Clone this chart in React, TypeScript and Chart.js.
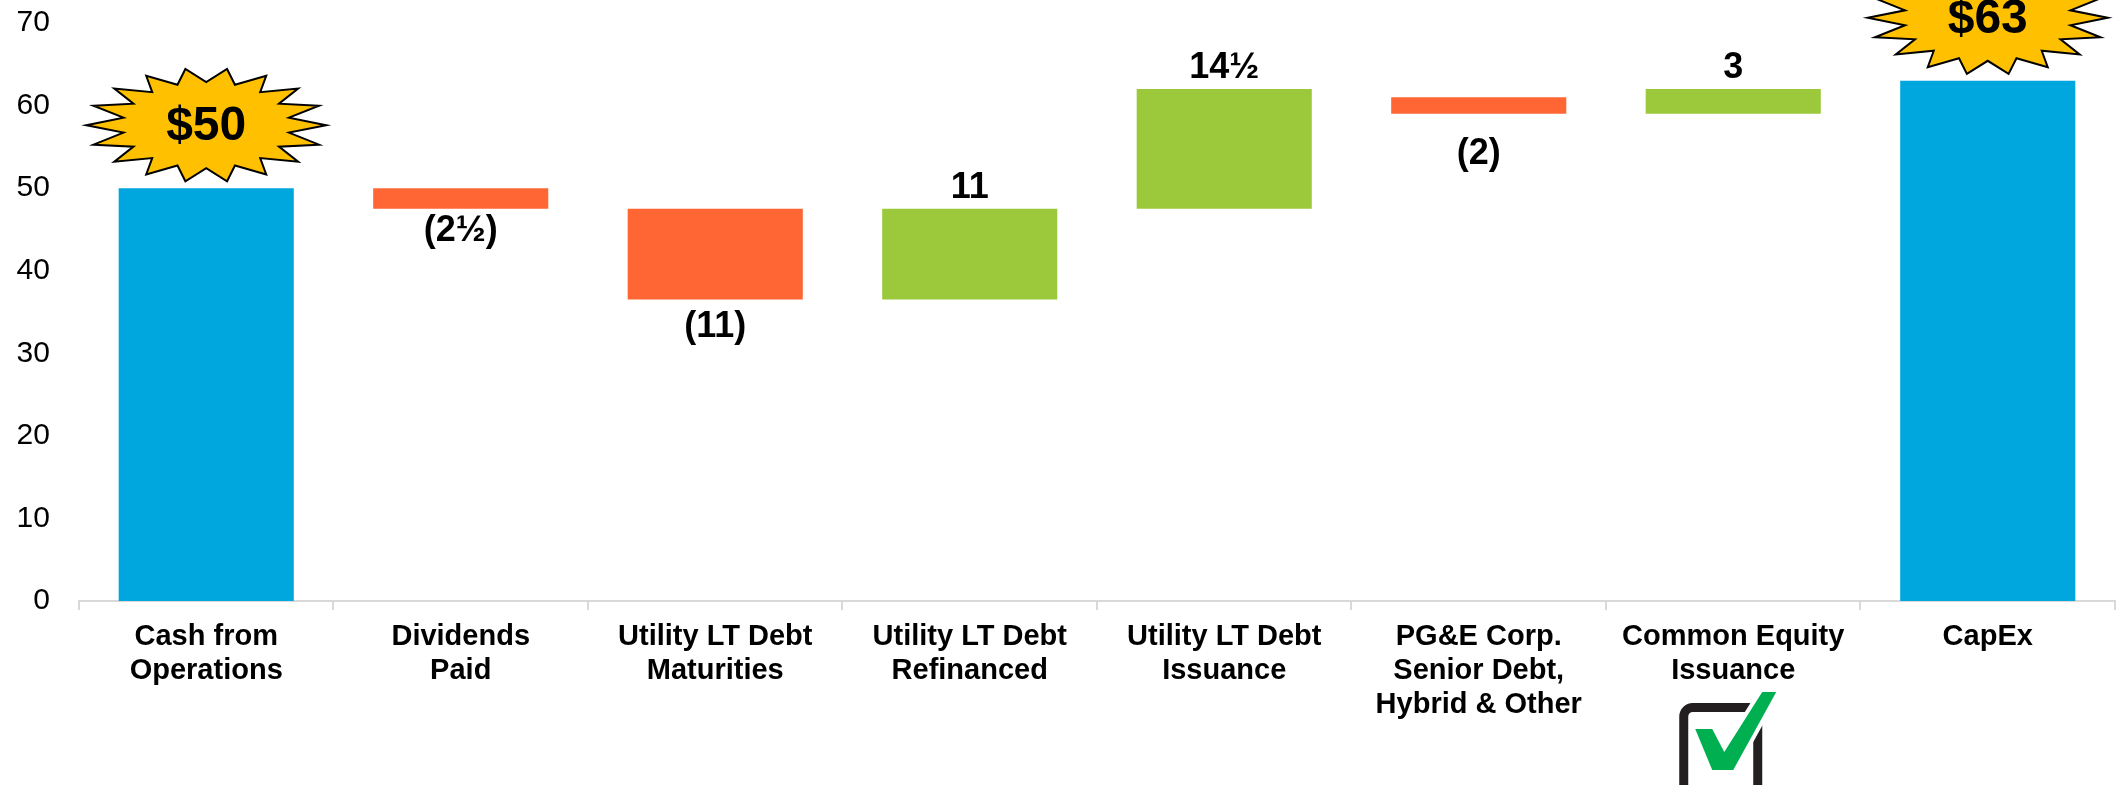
import React, { useEffect, useRef } from "react";
import { Chart, registerables } from "chart.js";

Chart.register(...registerables);

const categories: string[][] = [
  ["Cash from", "Operations"],
  ["Dividends", "Paid"],
  ["Utility LT Debt", "Maturities"],
  ["Utility LT Debt", "Refinanced"],
  ["Utility LT Debt", "Issuance"],
  ["PG&E Corp.", "Senior Debt,", "Hybrid & Other"],
  ["Common Equity", "Issuance"],
  ["CapEx"],
];
const barLows = [0, 47.5, 36.5, 36.5, 47.5, 59, 59, 0];
const barHighs = [50, 50, 47.5, 47.5, 62, 61, 62, 63];
const barKinds = ["total", "decrease", "decrease", "increase", "increase", "decrease", "increase", "total"];
const valueLabels = ["$50", "(2½)", "(11)", "11", "14½", "(2)", "3", "$63"];
const checkedCategory = 6;

const FONT = "'Liberation Sans', Arial, Helvetica, sans-serif";
const kindColors: Record<string, string> = {
  total: "#00A6DE",
  decrease: "#FF6633",
  increase: "#9CC93B",
};
// small per-label vertical nudges (pixels) to follow the original hand-placed labels
const labelNudge: Record<number, number> = { 1: -5, 5: 13 };

function drawStar(ctx: CanvasRenderingContext2D, cx: number, cy: number, text: string) {
  const n = 18;
  const rxO = 120, ryO = 57, rxI = 84, ryI = 43;
  ctx.save();
  ctx.beginPath();
  for (let i = 0; i < n * 2; i++) {
    const a = (i * Math.PI) / n;
    const outer = i % 2 === 0;
    const px = cx + Math.cos(a) * (outer ? rxO : rxI);
    const py = cy - Math.sin(a) * (outer ? ryO : ryI);
    if (i === 0) ctx.moveTo(px, py);
    else ctx.lineTo(px, py);
  }
  ctx.closePath();
  ctx.fillStyle = "#FFC000";
  ctx.fill();
  ctx.lineWidth = 2;
  ctx.strokeStyle = "#000";
  ctx.lineJoin = "miter";
  ctx.stroke();
  ctx.fillStyle = "#000";
  ctx.font = `bold 48px ${FONT}`;
  ctx.textAlign = "center";
  ctx.textBaseline = "middle";
  ctx.fillText(text, cx, cy + 2);
  ctx.restore();
}

function drawCheckbox(ctx: CanvasRenderingContext2D, cx: number, axisY: number) {
  ctx.save();
  ctx.lineWidth = 9;
  ctx.strokeStyle = "#231F20";
  ctx.beginPath();
  const l = cx - 49.5, t = axisY + 106.5, w = 74, h = 120;
  (ctx as any).roundRect ? (ctx as any).roundRect(l, t, w, h, 9) : ctx.rect(l, t, w, h);
  ctx.stroke();
  const pts: [number, number][] = [
    [-38, 128], [-21, 128], [-9, 151], [29, 91], [43, 91], [0, 169], [-21, 169],
  ];
  ctx.beginPath();
  pts.forEach(([dx, dy], i) => {
    if (i === 0) ctx.moveTo(cx + dx, axisY + dy);
    else ctx.lineTo(cx + dx, axisY + dy);
  });
  ctx.closePath();
  ctx.lineWidth = 8;
  ctx.strokeStyle = "#FFFFFF";
  ctx.lineJoin = "miter";
  ctx.stroke();
  ctx.fillStyle = "#00B050";
  ctx.fill();
  ctx.restore();
}

const annotationPlugin = {
  id: "annotations",
  afterDatasetsDraw(chart: any) {
    const ctx: CanvasRenderingContext2D = chart.ctx;
    const meta = chart.getDatasetMeta(0);
    meta.data.forEach((bar: any, i: number) => {
      const { x, y, base } = bar.getProps(["x", "y", "base"], true);
      const top = Math.min(y, base);
      const bottom = Math.max(y, base);
      const kind = barKinds[i];
      if (kind === "total") {
        drawStar(ctx, x, top - 63, valueLabels[i]);
      } else {
        ctx.save();
        ctx.fillStyle = "#000";
        ctx.font = `bold 36px ${FONT}`;
        ctx.textAlign = "center";
        ctx.textBaseline = "middle";
        const ty = (kind === "increase" ? top - 21 : bottom + 27) + (labelNudge[i] || 0);
        ctx.fillText(valueLabels[i], x, ty);
        ctx.restore();
      }
    });
    const xScale = chart.scales.x;
    drawCheckbox(ctx, xScale.getPixelForValue(checkedCategory), chart.chartArea.bottom);
  },
};

export default function App() {
  const ref = useRef<HTMLCanvasElement>(null);
  useEffect(() => {
    document.body.style.margin = "0";
    document.body.style.overflow = "hidden";
    const chart = new Chart(ref.current as HTMLCanvasElement, {
      type: "bar",
      data: {
        labels: categories,
        datasets: [
          {
            data: categories.map((_, i) => [barLows[i], barHighs[i]]) as any,
            backgroundColor: barKinds.map((k) => kindColors[k]),
            borderWidth: 0,
            categoryPercentage: 1,
            barPercentage: 0.688,
          },
        ],
      },
      options: {
        animation: false,
        responsive: false,
        devicePixelRatio: 1,
        layout: { padding: { left: 11.6, right: 3, top: 23, bottom: 53.2 } },
        plugins: {
          legend: { display: false },
          tooltip: { enabled: false },
        },
        scales: {
          x: {
            grid: {
              display: true,
              drawOnChartArea: false,
              drawTicks: true,
              tickLength: 9,
              offset: true,
              color: "#D9D9D9",
              lineWidth: 2,
            },
            border: { display: true, color: "#D9D9D9", width: 2 },
            ticks: {
              color: "#000",
              padding: 10,
              maxRotation: 0,
              autoSkip: false,
              font: { family: FONT, size: 29, weight: "bold", lineHeight: 1.17 },
            },
          },
          y: {
            min: 0,
            max: 70,
            grid: { display: false, drawTicks: true, tickLength: 24 },
            border: { display: false },
            ticks: {
              stepSize: 10,
              color: "#000",
              padding: 5,
              font: { family: FONT, size: 30 },
            },
          },
        },
      },
      plugins: [annotationPlugin],
    } as any);
    return () => chart.destroy();
  }, []);
  return (
    <div style={{ width: 2118, height: 785 }}>
      <canvas ref={ref} width={2118} height={785} style={{ display: "block" }} />
    </div>
  );
}
